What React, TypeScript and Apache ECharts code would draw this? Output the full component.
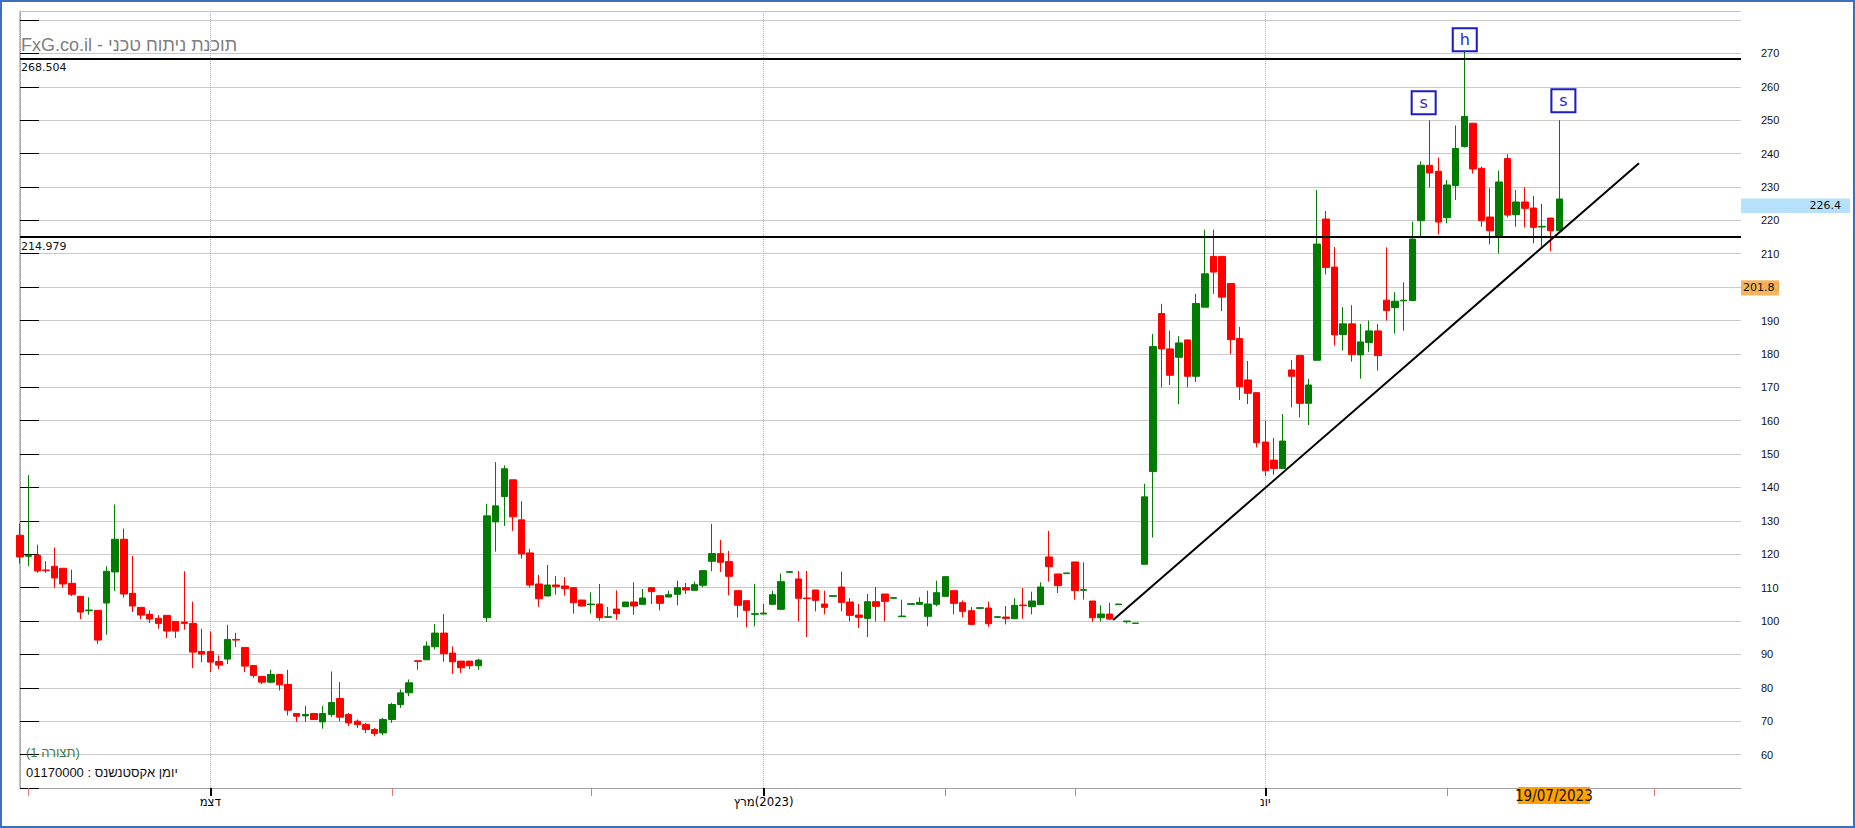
import React, { useEffect, useRef } from "react";
import * as echarts from "echarts";

// ---- candle data (one entry per trading day) ----
const openValues = [
  125.7, 119.4, 119.7, 115.3, 116.4, 115.8, 111.3, 107.4, 103.1, 103.2,
  105.4, 114.7, 124.5, 108.3, 104.1, 102.0, 100.8, 101.7, 99.9, 99.7,
  99.3, 90.9, 90.9, 87.9, 88.6, 94.5, 92.1, 86.7, 83.4, 81.7,
  84.0, 81.0, 72.3, 71.6, 72.3, 69.8, 72.0, 76.8, 72.0, 70.0,
  69.0, 67.5, 66.5, 70.5, 75.0, 78.5, 88.1, 88.4, 92.3, 96.4,
  90.4, 88.0, 88.0, 86.6, 101.0, 129.7, 137.3, 142.3, 130.3, 120.4,
  111.1, 107.5, 110.8, 110.5, 110.0, 106.3, 104.9, 105.1, 101.1, 103.6,
  104.3, 105.7, 105.0, 110.0, 107.6, 107.2, 108.0, 110.0, 109.2, 110.7,
  117.9, 120.2, 117.8, 109.1, 106.1, 102.0, 102.1, 105.0, 103.5, 114.6,
  112.6, 106.9, 109.3, 105.1, 107.4, 110.2, 105.7, 101.8, 100.8, 105.8,
  108.1, 106.8, 101.3, 105.0, 105.0, 101.4, 105.0, 107.4, 109.1, 105.5,
  103.1, 103.8, 103.9, 101.1, 101.2, 100.7, 104.8, 104.3, 104.9, 119.2,
  114.1, 114.2, 117.7, 109.2, 106.0, 101.0, 102.1, 104.9, 99.8, 99.3,
  117.0, 144.8, 192.1, 181.5, 179.0, 184.2, 173.3, 194.0, 209.2, 209.2,
  201.1, 184.6, 172.2, 168.4, 153.6, 148.2, 145.7, 175.2, 179.5, 165.2,
  178.1, 220.4, 206.0, 185.8, 189.0, 179.7, 183.4, 186.9, 196.1, 193.9,
  195.9, 196.0, 219.9, 236.5, 234.7, 220.8, 230.4, 242.1, 249.1, 235.6,
  221.0, 215.1, 238.5, 221.7, 225.5, 223.7, 218.0, 220.7, 216.9,
];
const closeValues = [
  119.2, 119.6, 115.0, 115.1, 112.9, 111.1, 108.0, 102.7, 103.3, 94.3,
  114.9, 124.5, 108.1, 104.5, 101.8, 100.6, 99.3, 97.0, 97.0, 99.3,
  90.7, 90.1, 87.7, 86.8, 94.5, 94.3, 86.5, 83.7, 81.7, 84.0,
  80.9, 73.3, 71.5, 72.0, 70.5, 72.3, 75.6, 71.2, 69.5, 69.0,
  67.5, 66.3, 70.5, 75.0, 78.5, 81.5, 87.9, 92.5, 96.4, 90.2,
  87.8, 86.0, 86.6, 88.3, 131.5, 134.5, 145.6, 131.2, 120.1, 110.8,
  106.7, 110.8, 110.3, 109.7, 105.5, 104.5, 105.1, 101.0, 101.3, 102.2,
  105.7, 104.5, 106.9, 108.8, 105.3, 107.9, 110.0, 109.3, 110.9, 115.1,
  120.2, 117.6, 113.4, 104.7, 103.2, 102.2, 102.4, 107.9, 111.8, 114.8,
  106.8, 106.7, 106.2, 104.1, 107.6, 105.6, 101.7, 101.1, 105.8, 104.4,
  105.9, 107.0, 101.5, 105.2, 105.6, 105.1, 108.5, 113.3, 105.3, 102.9,
  99.0, 104.0, 99.2, 101.3, 100.8, 104.7, 104.6, 106.0, 110.2, 116.3,
  110.6, 114.4, 109.1, 109.4, 101.0, 102.1, 100.6, 105.1, 100.0, 99.4,
  137.2, 182.2, 181.5, 173.6, 183.3, 173.3, 195.1, 204.0, 204.5, 197.0,
  184.3, 170.2, 168.2, 153.4, 145.0, 145.7, 153.9, 173.3, 165.2, 170.7,
  212.9, 205.9, 185.7, 189.0, 179.8, 183.6, 186.9, 179.5, 193.0, 195.8,
  196.1, 214.4, 236.5, 234.2, 219.5, 230.6, 241.5, 251.1, 235.4, 219.9,
  216.9, 231.5, 221.6, 225.5, 223.6, 217.9, 218.2, 216.9, 226.4,
];
const lowValues = [
  117.2, 116.4, 114.4, 114.4, 109.9, 109.9, 107.5, 100.6, 101.9, 93.1,
  95.9, 109.0, 107.0, 102.7, 100.6, 99.4, 97.7, 94.9, 94.9, 97.4,
  85.9, 87.7, 84.7, 85.6, 87.1, 92.2, 84.7, 83.0, 81.1, 81.4,
  79.2, 71.7, 69.8, 69.8, 70.5, 67.8, 71.3, 70.0, 68.5, 68.0,
  66.5, 65.5, 65.8, 69.5, 74.0, 77.5, 85.4, 88.3, 91.5, 87.8,
  84.2, 84.5, 85.6, 85.4, 99.7, 120.8, 128.5, 127.0, 118.7, 110.0,
  104.3, 107.5, 107.9, 107.6, 102.2, 104.3, 102.2, 100.1, 101.0, 100.4,
  104.2, 101.9, 105.0, 105.1, 103.2, 107.2, 104.7, 108.1, 109.2, 110.1,
  114.9, 114.7, 107.7, 101.1, 98.1, 98.4, 102.0, 105.0, 103.5, 114.6,
  99.9, 95.2, 102.9, 102.0, 107.4, 102.9, 99.9, 97.9, 95.2, 99.9,
  99.9, 106.6, 101.3, 105.0, 105.0, 98.4, 104.4, 107.4, 102.0, 101.1,
  98.7, 103.8, 98.3, 101.1, 99.0, 100.7, 100.7, 102.0, 104.9, 111.8,
  108.4, 114.2, 106.4, 106.4, 99.8, 99.8, 100.3, 104.9, 99.3, 99.3,
  117.0, 125.0, 170.0, 170.7, 165.0, 170.0, 171.6, 194.0, 198.0, 192.8,
  180.0, 166.2, 165.0, 152.0, 143.4, 143.8, 145.7, 164.0, 161.0, 158.7,
  178.1, 203.8, 182.5, 181.0, 177.7, 172.6, 180.6, 175.0, 190.0, 186.1,
  187.0, 196.0, 215.1, 229.8, 215.8, 219.1, 226.1, 241.8, 234.0, 218.1,
  212.8, 210.1, 220.9, 218.1, 217.9, 213.1, 212.1, 210.8, 216.9,
];
const highValues = [
  129.2, 143.7, 122.9, 117.9, 122.0, 115.8, 115.4, 107.4, 107.1, 103.2,
  116.4, 134.9, 127.7, 119.5, 104.1, 103.2, 101.8, 101.7, 99.9, 114.9,
  105.8, 97.7, 96.9, 89.7, 98.9, 96.5, 92.1, 86.7, 83.4, 85.4,
  84.0, 85.4, 72.3, 74.6, 72.5, 74.6, 84.9, 81.7, 72.5, 70.5,
  69.5, 68.0, 71.0, 75.5, 79.5, 82.5, 88.2, 93.9, 99.1, 102.1,
  92.4, 88.0, 88.0, 88.7, 135.1, 147.6, 146.6, 142.3, 135.9, 121.6,
  113.8, 116.8, 113.5, 113.2, 110.0, 106.3, 108.6, 111.1, 104.2, 109.2,
  105.7, 111.6, 109.6, 110.0, 107.6, 109.1, 112.1, 111.4, 111.8, 115.1,
  129.1, 124.3, 121.0, 109.1, 106.1, 111.1, 105.1, 109.1, 114.2, 114.8,
  115.0, 115.0, 109.3, 109.1, 107.6, 114.8, 106.9, 105.1, 108.1, 110.2,
  108.1, 107.2, 106.4, 105.2, 107.1, 109.1, 112.1, 113.3, 109.1, 106.2,
  104.2, 104.0, 105.8, 101.3, 104.5, 106.8, 109.9, 108.8, 111.6, 127.0,
  114.1, 114.4, 117.7, 117.6, 106.0, 104.7, 105.5, 105.1, 100.0, 99.4,
  141.1, 186.0, 195.0, 187.0, 185.3, 184.2, 198.0, 217.2, 217.2, 209.2,
  201.1, 188.1, 177.9, 168.4, 160.0, 154.8, 162.0, 178.2, 179.5, 172.5,
  229.1, 222.8, 212.0, 194.0, 194.6, 189.0, 190.0, 189.0, 211.9, 198.5,
  201.4, 219.6, 237.7, 250.0, 238.8, 232.1, 248.4, 270.5, 249.1, 236.1,
  229.6, 234.9, 239.8, 229.1, 229.9, 227.3, 224.9, 220.7, 250.0,
];

// ---- axis definitions ----
const slotCount = 200; // trading-day slots on the time axis (incl. empty future space)
const categories = Array.from({ length: slotCount }, (_, i) => String(i));
const majorTickIndex = [22, 86, 144];
const majorTickLabels = ["דצמ", "מרץ\u200E(2023)", "יונ"];
const minorTickIndex = [1, 43, 66, 107, 122, 165, 189];
const yTickValues = [50, 60, 70, 80, 90, 100, 110, 120, 130, 140, 150, 160, 170, 180, 190, 200, 210, 220, 230, 240, 250, 260, 270, 280];
const yLabelValues = [60, 70, 80, 90, 100, 110, 120, 130, 140, 150, 160, 170, 180, 190, 200, 210, 220, 230, 240, 250, 260, 270];

// ---- annotations ----
const levelLines = [268.504, 214.979];
const trendLine = [
  [126.4, 100.3],
  [187.2, 237.1],
];
const patternMarks = [
  { text: "s", index: 163 },
  { text: "h", index: 167 },
  { text: "s", index: 178 },
];
const markOffsets = [
  [-6, -17.5],
  [0.5, -12],
  [4, -19.5],
];
const lastPrice = 226.4;
const refPrice = 201.8;
const lastDate = "19/07/2023";
const titleText = "FxG.co.il - תוכנת ניתוח טכני";
const patternName = "(תצורה 1)";
const instrumentText = "יומן אקסטנשנס : 01170000";

const W = 1855;
const H = 828;
const GL = 20;
const GT = 11;
const GR = 1741;
const GB = 788;

export default function App() {
  const ref = useRef<HTMLDivElement>(null);
  useEffect(() => {
    const chart = echarts.init(ref.current!, null, { renderer: "svg", width: W, height: H });
    const candles = openValues.map((o, i) => [o, closeValues[i], lowValues[i], highValues[i]]);
    const isMajor = (i: number) => majorTickIndex.indexOf(i) >= 0;
    const isMinor = (i: number) => minorTickIndex.indexOf(i) >= 0;

    chart.setOption({
      animation: false,
      backgroundColor: "#ffffff",
      grid: { left: GL, top: GT, width: GR - GL, height: GB - GT, containLabel: false },
      xAxis: [
        {
          type: "category",
          data: categories,
          boundaryGap: false,
          position: "bottom",
          axisLine: { show: true, onZero: false, lineStyle: { color: "#9a9a9a", type: "dotted", width: 1 } },
          axisTick: { show: true, interval: (i: number) => isMajor(i), length: 8, lineStyle: { color: "#000", width: 2 } },
          axisLabel: {
            show: true,
            interval: (i: number) => isMajor(i),
            formatter: (_v: string, i: number) => majorTickLabels[majorTickIndex.indexOf(i)] ?? "",
            margin: 7,
            fontSize: 13,
            fontFamily: '"Liberation Sans Narrow", "DejaVu Sans Condensed", "Liberation Sans", sans-serif',
            color: "#000",
          },
          splitLine: { show: true, interval: (i: number) => isMajor(i), lineStyle: { color: "#b0b0b0", type: "dotted" } },
        },
        {
          type: "category",
          data: categories,
          boundaryGap: false,
          position: "bottom",
          axisLine: { show: false, onZero: false },
          axisTick: { show: true, interval: (i: number) => isMinor(i), length: 8, lineStyle: { color: "#e07a7a", width: 1 } },
          axisLabel: { show: false },
          splitLine: { show: false },
        },
        { type: "value", min: 0, max: slotCount - 1, show: false, position: "top" },
      ],
      yAxis: {
        type: "value",
        position: "right",
        min: 50,
        max: 282.7,
        interval: 10,
        axisLine: { show: true, lineStyle: { color: "#9a9a9a", type: "dotted", width: 1 } },
        axisTick: { show: true, length: 19, customValues: yTickValues, lineStyle: { color: "#000", width: 1 } },
        axisLabel: {
          show: true,
          customValues: yLabelValues,
          margin: 20,
          fontSize: 11,
          fontFamily: '"Liberation Sans", Arial, sans-serif',
          color: "#111",
        },
        splitLine: { show: true, lineStyle: { color: "#cacaca", width: 1 } },
      },
      series: [
        {
          type: "candlestick",
          xAxisIndex: 0,
          yAxisIndex: 0,
          data: candles,
          barWidth: 7,
          clip: true,
          itemStyle: {
            color: "#007d00",
            color0: "#ff0000",
            borderColor: "#007d00",
            borderColor0: "#ff0000",
            borderWidth: 1,
          },
          markLine: {
            silent: true,
            symbol: ["none", "none"],
            label: { show: false },
            lineStyle: { color: "#000", width: 2, type: "solid" },
            data: levelLines.map((v) => ({ yAxis: v })),
          },
          markPoint: {
            silent: true,
            symbol: "rect",
            symbolSize: [24, 23],
            itemStyle: { color: "#ffffff", borderColor: "#1c1cc4", borderWidth: 2 },
            label: {
              show: true,
              position: "inside",
              color: "#2a2ad0",
              fontSize: 16,
              fontFamily: '"DejaVu Sans", sans-serif',
            },
            data: patternMarks.map((m, k) => ({
              coord: [m.index, highValues[m.index]],
              symbolOffset: markOffsets[k],
              label: { formatter: m.text },
            })),
          },
        },
        {
          type: "line",
          xAxisIndex: 2,
          yAxisIndex: 0,
          data: trendLine,
          symbol: "none",
          silent: true,
          lineStyle: { color: "#000", width: 2 },
          z: 5,
        },
      ],
    });

    const py = (v: number) => chart.convertToPixel({ yAxisIndex: 0 }, v) as number;
    const px = (i: number) => chart.convertToPixel({ xAxisIndex: 0 }, i) as number;
    const txt = (x: number, y: number, text: string, font: string, fill: string, align = "left", z = 50) => ({
      type: "text",
      x,
      y,
      z,
      style: { text, font, fill, align, textAlign: align, verticalAlign: "middle", textVerticalAlign: "middle" },
    });
    const tagFont = '11px "DejaVu Sans", Tahoma, sans-serif';
    const lastX = px(closeValues.length - 1);

    chart.setOption({
      graphic: [
        { type: "rect", z: 200, shape: { x: 1, y: 1, width: W - 2, height: H - 2 }, style: { fill: "none", stroke: "#3c6fc0", lineWidth: 2 } },
        { type: "line", z: 1, shape: { x1: GL - 0.5, y1: GT, x2: GL - 0.5, y2: GB }, style: { stroke: "#c4c4c4", lineWidth: 1 } },
        { type: "line", z: 1, shape: { x1: GL, y1: GT + 0.5, x2: GR, y2: GT + 0.5 }, style: { stroke: "#c4c4c4", lineWidth: 1 } },
        txt(GL + 1, 45, titleText, '18px "Liberation Sans", Arial, sans-serif', "#808080"),
        ...levelLines.map((v) => txt(GL + 1, py(v) + 9, v.toFixed(3), tagFont, "#111")),
        txt(26, 752.7, patternName, '13px "Liberation Sans", Arial, sans-serif', "#3a803a"),
        txt(26, 772.7, instrumentText, '13px "Liberation Sans", Arial, sans-serif', "#111"),
        { type: "rect", z: 60, shape: { x: GR, y: py(lastPrice) - 0.5, width: 109, height: 14.6 }, style: { fill: "#b5e2fa" } },
        txt(1841, py(lastPrice) + 7, lastPrice.toFixed(1), tagFont, "#111", "right", 61),
        { type: "rect", z: 60, shape: { x: GR, y: py(refPrice) - 1, width: 38, height: 15.3 }, style: { fill: "#f7ad4a", opacity: 0.9 } },
        txt(GR + 2, py(refPrice) + 6.6, refPrice.toFixed(1), tagFont, "#111", "left", 61),
        { type: "rect", z: 60, shape: { x: lastX - 41.5, y: GB - 1, width: 72, height: 17 }, style: { fill: "#ffa200" } },
        txt(lastX - 5.5, GB + 7.5, lastDate, '15px "Liberation Sans Narrow", "DejaVu Sans Condensed", sans-serif', "#111", "center", 61),
      ],
    });

    return () => chart.dispose();
  }, []);
  return <div ref={ref} style={{ position: "fixed", left: 0, top: 0, width: W, height: H, background: "#fff" }} />;
}
